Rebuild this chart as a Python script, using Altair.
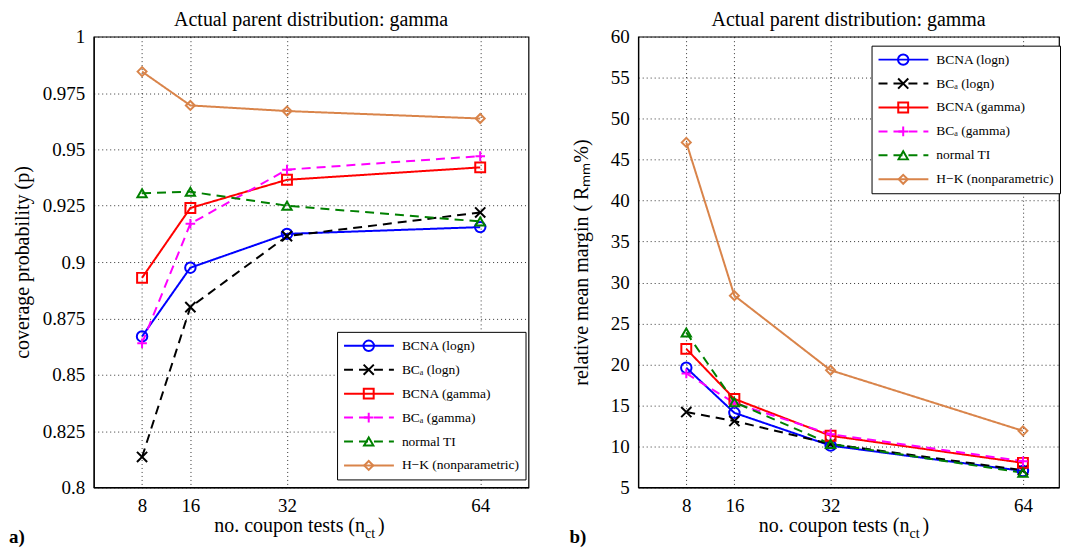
import altair as alt
import pandas as pd

n_ct = [8, 16, 32, 64]
series = ["BCNA (logn)", "BCₐ (logn)", "BCNA (gamma)", "BCₐ (gamma)", "normal TI", "H−K (nonparametric)"]
colors = ["#0000ff", "#000000", "#ff0000", "#ff00ff", "#008000", "#d9844a"]
dashes = [[1, 0], [9, 6], [1, 0], [9, 6], [9, 6], [1, 0]]
shapes = ["circle", "M-1,-1L1,1M-1,1L1,-1", "square", "M-1,0H1M0,-1V1", "triangle-up", "diamond"]
sizes = [110, 81, 64, 110, 121, 169]

# panel a) coverage probability
cov_bcna_logn = [0.867, 0.8975, 0.9125, 0.9155]
cov_bca_logn = [0.8135, 0.880, 0.9115, 0.922]
cov_bcna_gamma = [0.893, 0.924, 0.9365, 0.942]
cov_bca_gamma = [0.864, 0.917, 0.941, 0.947]
cov_normal_ti = [0.9305, 0.9312, 0.925, 0.918]
cov_hk = [0.9845, 0.9695, 0.967, 0.9637]

# panel b) relative mean margin
mm_bcna_logn = [19.6, 14.1, 10.1, 7.0]
mm_bca_logn = [14.2, 13.1, 10.3, 7.1]
mm_bcna_gamma = [21.9, 15.8, 11.3, 8.0]
mm_bca_gamma = [18.9, 15.3, 11.5, 8.2]
mm_normal_ti = [23.9, 15.4, 10.3, 6.8]
mm_hk = [47.1, 28.4, 19.3, 11.9]

cov_ticks = [0.8, 0.825, 0.85, 0.875, 0.9, 0.925, 0.95, 0.975, 1.0]
mm_ticks = [5, 10, 15, 20, 25, 30, 35, 40, 45, 50, 55, 60]

FONT = "Liberation Serif, Times New Roman, Times, serif"
series_m = [s + " " for s in series]


def make_df(vals_list):
    rows = []
    for s, sm, vals in zip(series, series_m, vals_list):
        for n, v in zip(n_ct, vals):
            rows.append({"n": n, "v": v, "series": s, "series_m": sm})
    return pd.DataFrame(rows)


def panel(vals_list, ydom, yticks, ytitle, tpad, xmax, width, lx, ly, tag, tag_x):
    df = make_df(vals_list)
    base = alt.Chart(df)
    x = alt.X("n:Q", scale=alt.Scale(domain=[0, xmax], nice=False, zero=False),
              axis=alt.Axis(values=n_ct, title=None, format="d"))
    y = alt.Y("v:Q", scale=alt.Scale(domain=ydom, nice=False, zero=False),
              axis=alt.Axis(values=yticks, title=ytitle, format=".4~g", titlePadding=tpad))
    line_leg = alt.Legend(orient="none", legendX=lx, legendY=ly, title=None,
                          symbolType="stroke", symbolSize=2500, symbolStrokeWidth=2,
                          labelFont=FONT, labelFontSize=13.5, labelColor="black",
                          strokeColor="black", fillColor="white", padding=6,
                          rowPadding=8, clipHeight=16, labelOffset=7)
    mk_leg = alt.Legend(orient="none", legendX=lx + 19, legendY=ly, title=None,
                        symbolStrokeWidth=2, labelFont=FONT, labelFontSize=13.5,
                        labelOpacity=0, padding=6, rowPadding=8, clipHeight=16,
                        labelOffset=7)
    lines = base.mark_line(strokeWidth=2).encode(
        x=x, y=y,
        color=alt.Color("series:N", scale=alt.Scale(domain=series, range=colors), legend=line_leg),
        strokeDash=alt.StrokeDash("series:N", scale=alt.Scale(domain=series, range=dashes), legend=line_leg),
    )
    pts = base.mark_point(filled=False, strokeWidth=2, opacity=1).encode(
        x=x, y=y,
        color=alt.Color("series_m:N", scale=alt.Scale(domain=series_m, range=colors), legend=mk_leg),
        shape=alt.Shape("series_m:N", scale=alt.Scale(domain=series_m, range=shapes), legend=mk_leg),
        size=alt.Size("series_m:N", scale=alt.Scale(domain=series_m, range=sizes), legend=mk_leg),
    )
    tdf = pd.DataFrame({"t": ["no. coupon tests (n"], "s": ["ct"], "p": [")"], "tag": [tag]})
    tb = alt.Chart(tdf)
    t1 = tb.mark_text(font=FONT, fontSize=20, align="right", baseline="alphabetic").encode(
        text="t:N", x=alt.value(272), y=alt.value(497))
    t2 = tb.mark_text(font=FONT, fontSize=14, align="left", baseline="alphabetic").encode(
        text="s:N", x=alt.value(272), y=alt.value(503))
    t3 = tb.mark_text(font=FONT, fontSize=20, align="left", baseline="alphabetic").encode(
        text="p:N", x=alt.value(285), y=alt.value(497))
    t4 = tb.mark_text(font=FONT, fontSize=19, fontWeight="bold", align="left", baseline="alphabetic").encode(
        text="tag:N", x=alt.value(tag_x), y=alt.value(508))
    return alt.layer(lines, pts, t1, t2, t3, t4).resolve_scale(
        color="independent", strokeDash="independent", shape="independent", size="independent"
    ).properties(
        width=width, height=452,
        title=alt.TitleParams("Actual parent distribution: gamma", font=FONT, fontSize=20,
                              fontWeight="normal", offset=-2, anchor="middle", frame="group",
                              color="black"))


left = panel([cov_bcna_logn, cov_bca_logn, cov_bcna_gamma, cov_bca_gamma, cov_normal_ti, cov_hk],
             [0.8, 1.0], cov_ticks, "coverage probability (p)", 10, 72, 436, 244, 296, "a)", -85)
right = panel([mm_bcna_logn, mm_bca_logn, mm_bcna_gamma, mm_bca_gamma, mm_normal_ti, mm_hk],
              [5, 60], mm_ticks, "relative mean margin ( Rₘₘ%)", 19, 70, 422, 234, 9, "b)", -69)

chart = alt.hconcat(left, right, spacing=39).resolve_scale(
    color="independent", strokeDash="independent", shape="independent", size="independent"
).properties(
    padding={"left": 0, "top": 0, "right": 0, "bottom": 0}
).configure_view(stroke="black", strokeWidth=1.2).configure_axis(
    labelFont=FONT, labelFontSize=19, labelColor="black", titleFont=FONT, titleFontSize=20,
    titleColor="black", titleFontWeight="normal", ticks=False, labelPadding=9,
    gridColor="black", gridDash=[1, 3], gridOpacity=0.8, domainColor="black", domainWidth=1.2,
)

chart.save("out.html", embed_options={"renderer": "svg", "actions": False})
